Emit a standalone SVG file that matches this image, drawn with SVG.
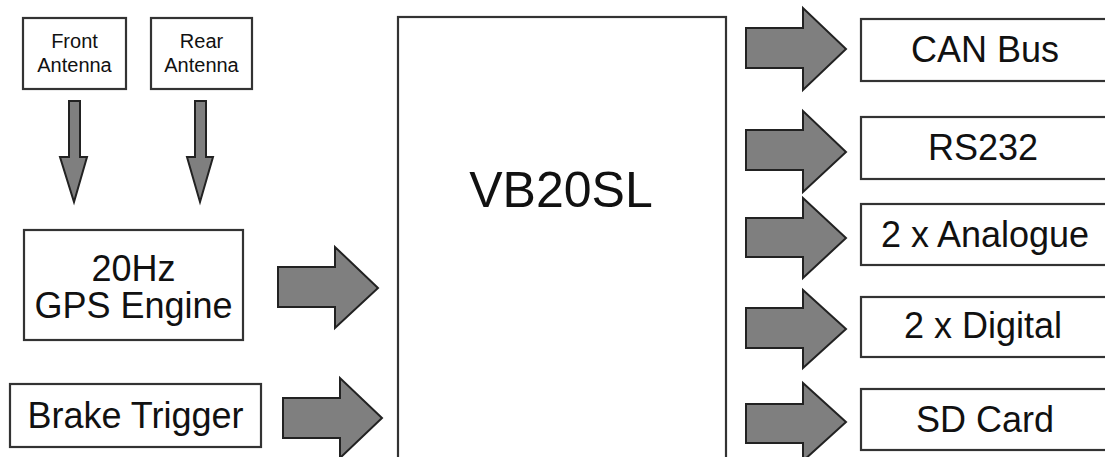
<svg xmlns="http://www.w3.org/2000/svg" width="1105" height="457" viewBox="0 0 1105 457">
<style>
.box{fill:#fff;stroke:#333;stroke-width:2.2}
.arr{fill:#7f7f7f;stroke:#222;stroke-width:2;stroke-linejoin:miter}
text{font-family:"Liberation Sans",Arial,sans-serif;fill:#111;text-anchor:middle}
.s{font-size:20px}.m{font-size:36px}.l{font-size:50px}
</style>
<rect width="1105" height="457" fill="#fff"/>
<g id="front-antenna"><rect class="box" x="23" y="18" width="103" height="71"/><text class="s" x="74.5" y="48">Front</text><text class="s" x="74.5" y="72">Antenna</text></g>
<g id="rear-antenna"><rect class="box" x="151" y="18" width="101" height="71"/><text class="s" x="201.5" y="48">Rear</text><text class="s" x="201.5" y="72">Antenna</text></g>
<g id="gps-engine"><rect class="box" x="24" y="230" width="219" height="110"/><text class="m" x="133.5" y="281">20Hz</text><text class="m" x="133.5" y="318">GPS Engine</text></g>
<g id="brake-trigger"><rect class="box" x="10" y="384" width="251" height="63"/><text class="m" x="135.5" y="428">Brake Trigger</text></g>
<g id="vb20sl"><rect class="box" x="398" y="17" width="328" height="470"/><text class="l" x="561" y="207">VB20SL</text></g>
<g id="can-bus"><rect class="box" x="861" y="19" width="260" height="62"/><text class="m" x="985" y="62">CAN Bus</text></g>
<g id="rs232"><rect class="box" x="861" y="117" width="260" height="62"/><text class="m" x="983" y="160">RS232</text></g>
<g id="analogue"><rect class="box" x="861" y="204" width="260" height="61"/><text class="m" x="985" y="247">2 x Analogue</text></g>
<g id="digital"><rect class="box" x="861" y="297" width="260" height="60"/><text class="m" x="983" y="338">2 x Digital</text></g>
<g id="sd-card"><rect class="box" x="861" y="389" width="260" height="61"/><text class="m" x="985" y="432">SD Card</text></g>
<g id="connectors">
<polygon class="arr" points="69,101 80,101 80,157 87,157 74,202 60,157 69,157"/>
<polygon class="arr" points="195,101 206,101 206,157 213,157 200,202 187,157 195,157"/>
<polygon class="arr" points="278,267 335,267 335,247 378,288 335,328 335,307 278,307"/>
<polygon class="arr" points="283,398 340,398 340,378 382,418 340,458 340,438 283,438"/>
<polygon class="arr" points="746,28 803,28 803,8 846,49 803,90 803,68 746,68"/>
<polygon class="arr" points="746,130 803,130 803,111 846,152 803,192 803,170 746,170"/>
<polygon class="arr" points="746,218 803,218 803,198 846,238 803,278 803,257 746,257"/>
<polygon class="arr" points="746,308 803,308 803,290 846,329 803,368 803,348 746,348"/>
<polygon class="arr" points="746,404 803,404 803,383 846,422 803,461 803,443 746,443"/>
</g>
</svg>
